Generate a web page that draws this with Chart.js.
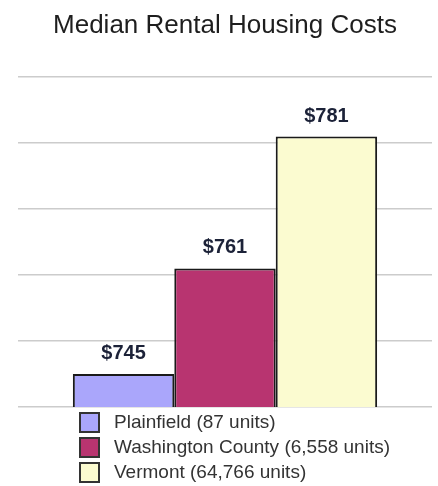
<!DOCTYPE html>
<html>
<head>
<meta charset="utf-8">
<title>Median Rental Housing Costs</title>
<script src="https://cdn.jsdelivr.net/npm/chart.js@4/dist/chart.umd.min.js"></script>
<style>
  html, body { margin: 0; padding: 0; background: #ffffff; }
  #wrap { position: relative; width: 438px; height: 486px; }
</style>
</head>
<body>
<div id="wrap"><canvas id="chart"></canvas></div>
<script>
// Median rent, one bar per area
const areas = ["Plainfield (87 units)", "Washington County (6,558 units)", "Vermont (64,766 units)"];
const rents = [745, 761, 781];
const barColors = ["#aaa6fb", "#b83470", "#fbfbd0"];

// value labels above each bar
const valueLabels = {
    id: 'valueLabels',
    afterDatasetsDraw(chart) {
        const ctx = chart.ctx;
        ctx.save();
        ctx.font = 'bold 20px "Liberation Sans", Arial, sans-serif';
        ctx.fillStyle = '#1c2238';
        ctx.textAlign = 'center';
        ctx.textBaseline = 'alphabetic';
        chart.data.datasets.forEach((ds, i) => {
            const bar = chart.getDatasetMeta(i).data[0];
            ctx.fillText('$' + ds.data[0], bar.x, bar.y - 15);
        });
        ctx.restore();
    }
};

// stacked legend under the plot, one row per area
const stackedLegend = {
    id: 'stackedLegend',
    afterDraw(chart) {
        const ctx = chart.ctx;
        const top = chart.chartArea.bottom + 15;
        ctx.save();
        ctx.font = '19px "Liberation Sans", Arial, sans-serif';
        ctx.textBaseline = 'middle';
        chart.data.datasets.forEach((ds, i) => {
            const y = top + i * 25;
            ctx.fillStyle = ds.backgroundColor;
            ctx.fillRect(80, y - 9, 19, 19);
            ctx.strokeStyle = '#333333';
            ctx.lineWidth = 2;
            ctx.strokeRect(80, y - 9, 19, 19);
            ctx.fillStyle = '#333333';
            ctx.fillText(ds.label, 114, y + 1);
        });
        ctx.restore();
    }
};

document.addEventListener('DOMContentLoaded', function () {
    const datasets = areas.map((name, i) => ({
        label: name,
        data: [rents[i]],
        backgroundColor: barColors[i],
        borderColor: '#1a1a1a',
        borderWidth: 2,
        barPercentage: 1.0,
        categoryPercentage: 0.735
    }));

    new Chart(document.getElementById('chart').getContext('2d'), {
        type: 'bar',
        data: { labels: [''], datasets: datasets },
        plugins: [valueLabels, stackedLegend],
        options: {
            responsive: true,
            maintainAspectRatio: false,
            animation: false,
            layout: { padding: { left: 18, right: 6, bottom: 79 } },
            plugins: {
                legend: { display: false },
                tooltip: { enabled: false },
                title: {
                    display: true,
                    text: 'Median Rental Housing Costs',
                    color: '#1e1e1e',
                    font: { family: '"Liberation Sans", Arial, sans-serif', size: 26, weight: 'normal' },
                    padding: { top: 10, bottom: 36 }
                }
            },
            scales: {
                x: { display: false },
                y: {
                    min: 740,
                    max: 790,
                    ticks: { display: false, stepSize: 10 },
                    border: { display: false },
                    grid: { color: '#cccccc', lineWidth: 1.5, drawTicks: false }
                }
            }
        }
    });
});
</script>
</body>
</html>
